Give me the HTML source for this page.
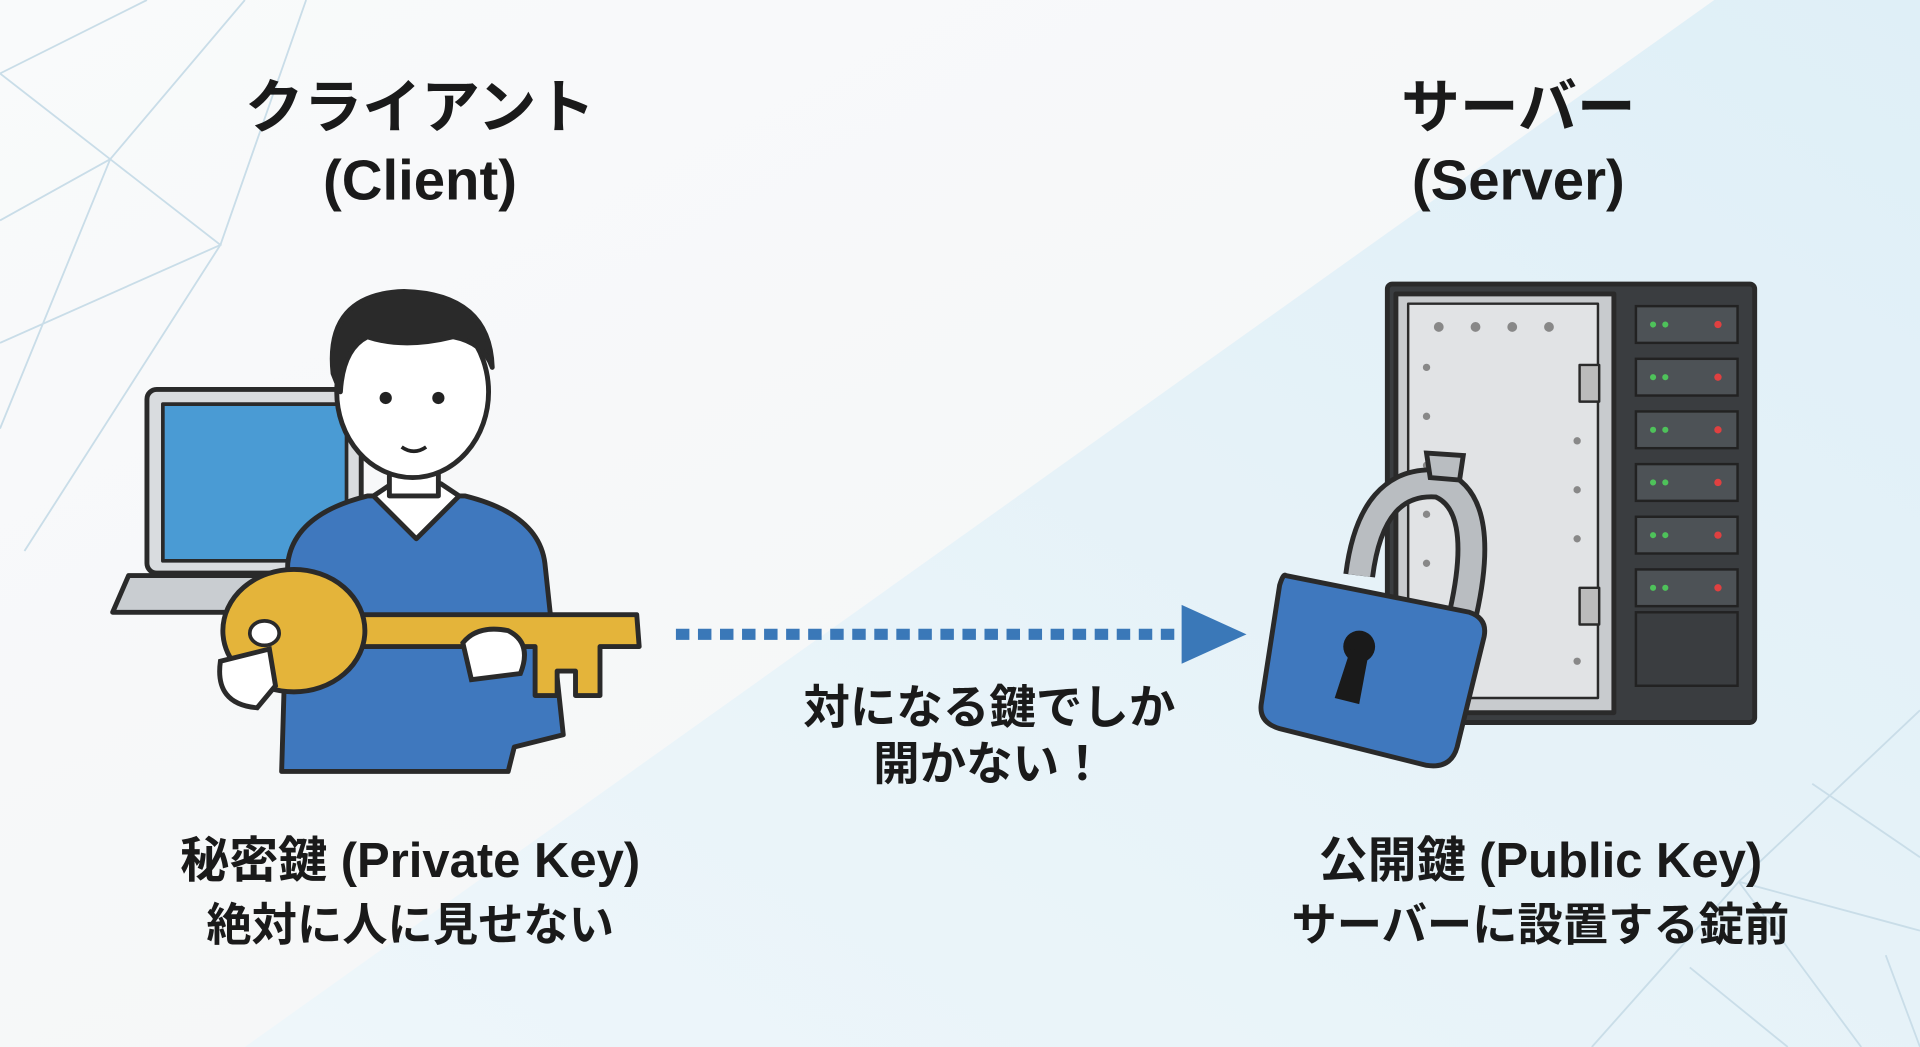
<!DOCTYPE html>
<html><head><meta charset="utf-8">
<style>
html,body{margin:0;padding:0;width:1920px;height:1047px;overflow:hidden;background:#f7f8f9}
svg{display:block}
text{font-family:"Liberation Sans","Noto Sans CJK JP",sans-serif;font-weight:bold;fill:#1a1a1a}
</style></head><body>
<svg width="1920" height="1047" viewBox="0 0 1568 855" preserveAspectRatio="none" xmlns="http://www.w3.org/2000/svg">
<defs>
<linearGradient id="bg" x1="0" y1="0" x2="1" y2="1">
<stop offset="0" stop-color="#f9fafb"/><stop offset="1" stop-color="#f3f5f6"/></linearGradient>
<linearGradient id="bl" x1="0" y1="1" x2="1" y2="0">
<stop offset="0" stop-color="#eef6fa"/><stop offset="1" stop-color="#dfeff7"/></linearGradient>
</defs>
<rect width="1568" height="855" fill="url(#bg)"/>
<polygon points="200,855 1400,0 1568,0 1568,855" fill="url(#bl)"/>
<g stroke="#c9dde8" stroke-width="1.5" fill="none">
<path d="M0,60 L120,0 M0,60 L90,130 L180,200 L0,280 M90,130 L200,0 M90,130 L0,180 M180,200 L20,450 M0,350 L90,130 M180,200 L250,0"/>
<path d="M1568,580 L1420,720 L1300,855 M1420,720 L1568,760 M1420,720 L1520,855 M1480,640 L1568,700 M1380,790 L1460,855 M1540,780 L1568,855"/>
</g>
<text x="343" y="104" font-size="48" text-anchor="middle">クライアント</text>
<text x="343" y="163" font-size="46" text-anchor="middle">(Client)</text>
<text x="1240" y="104" font-size="48" text-anchor="middle">サーバー</text>
<text x="1240" y="163" font-size="46" text-anchor="middle">(Server)</text>
<g stroke="#2a2a2a" stroke-width="4" stroke-linejoin="round">
<rect x="120" y="318" width="175" height="150" rx="8" fill="#d9dcdf"/>
<rect x="133" y="330" width="150" height="128" fill="#4a9bd4" stroke-width="3"/>
<path d="M105,470 L310,470 L320,500 L92,500 Z" fill="#c9cdd1"/>
</g>
<g stroke="#2a2a2a" stroke-width="4" stroke-linejoin="round">
<path d="M230,630 L235,460 Q240,420 300,405 L380,405 Q440,420 445,460 L460,600 L420,610 L415,630 Z" fill="#3f78be"/>
<path d="M305,405 L340,440 L375,405 L360,395 L320,395 Z" fill="#fff"/>
<rect x="318" y="370" width="40" height="35" fill="#fff"/>
<ellipse cx="337" cy="320" rx="62" ry="70" fill="#fff"/>
<path d="M272,305 Q265,240 330,238 Q400,240 402,300 Q395,280 370,275 Q330,285 300,275 Q280,285 278,320 Z" fill="#2a2a2a"/>
</g>
<circle cx="315" cy="325" r="5" fill="#222"/><circle cx="358" cy="325" r="5" fill="#222"/>
<path d="M328,365 Q338,372 348,365" stroke="#222" stroke-width="3" fill="none"/>
<g stroke="#2a2a2a" stroke-width="4" stroke-linejoin="round" fill="#e4b43a">
<path d="M290,502 L520,502 L522,528 L490,528 L490,568 L470,568 L470,548 L455,548 L455,568 L437,568 L437,528 L290,528 Z"/>
<ellipse cx="240" cy="515" rx="58" ry="50"/>
</g>
<ellipse cx="216" cy="517" rx="12" ry="10" fill="#fff" stroke="#2a2a2a" stroke-width="3"/>
<path d="M180,540 Q175,575 210,578 L225,560 L220,530 Z" fill="#fff" stroke="#2a2a2a" stroke-width="4"/>
<path d="M378,525 Q390,510 415,515 Q435,525 425,550 L385,555 Z" fill="#fff" stroke="#2a2a2a" stroke-width="4"/>
<line x1="552" y1="518" x2="965" y2="518" stroke="#3a78b8" stroke-width="9" stroke-dasharray="11,7"/>
<polygon points="965,494 1018,518 965,542" fill="#3a78b8"/>
<text x="808" y="591" font-size="38" text-anchor="middle">対になる鍵でしか</text>
<text x="808" y="637" font-size="38" text-anchor="middle">開かない！</text>
<g stroke="#2a2a2a" stroke-width="4" stroke-linejoin="round">
<rect x="1133" y="232" width="300" height="358" rx="4" fill="#3a3d40"/>
<rect x="1140" y="240" width="178" height="342" fill="#c8cbce"/>
<rect x="1150" y="248" width="155" height="322" fill="#e1e3e5" stroke-width="2"/>
<rect x="1290" y="298" width="16" height="30" fill="#bbb" stroke-width="2"/>
<rect x="1290" y="480" width="16" height="30" fill="#bbb" stroke-width="2"/>
</g>
<g fill="#888">
<circle cx="1175" cy="267" r="4"/><circle cx="1205" cy="267" r="4"/><circle cx="1235" cy="267" r="4"/><circle cx="1265" cy="267" r="4"/>
<circle cx="1165" cy="300" r="3"/><circle cx="1165" cy="340" r="3"/><circle cx="1165" cy="380" r="3"/><circle cx="1165" cy="420" r="3"/><circle cx="1165" cy="460" r="3"/><circle cx="1165" cy="500" r="3"/>
<circle cx="1288" cy="360" r="3"/><circle cx="1288" cy="400" r="3"/><circle cx="1288" cy="440" r="3"/><circle cx="1288" cy="540" r="3"/>
</g>
<g stroke="#222" stroke-width="2" fill="#4d5256">
<rect x="1336" y="250" width="83" height="30"/><rect x="1336" y="293" width="83" height="30"/><rect x="1336" y="336" width="83" height="30"/>
<rect x="1336" y="379" width="83" height="30"/><rect x="1336" y="422" width="83" height="30"/><rect x="1336" y="465" width="83" height="30"/>
<rect x="1336" y="500" width="83" height="60" fill="#3a3d40"/>
</g>
<g fill="#4ec25a">
<circle cx="1350" cy="265" r="2.5"/><circle cx="1360" cy="265" r="2.5"/><circle cx="1350" cy="308" r="2.5"/><circle cx="1360" cy="308" r="2.5"/>
<circle cx="1350" cy="351" r="2.5"/><circle cx="1360" cy="351" r="2.5"/><circle cx="1350" cy="394" r="2.5"/><circle cx="1360" cy="394" r="2.5"/>
<circle cx="1350" cy="437" r="2.5"/><circle cx="1360" cy="437" r="2.5"/><circle cx="1350" cy="480" r="2.5"/><circle cx="1360" cy="480" r="2.5"/>
</g>
<g fill="#e04040">
<circle cx="1403" cy="265" r="3"/><circle cx="1403" cy="308" r="3"/><circle cx="1403" cy="351" r="3"/><circle cx="1403" cy="394" r="3"/><circle cx="1403" cy="437" r="3"/><circle cx="1403" cy="480" r="3"/>
</g>
<path d="M1110,470 Q1120,390 1175,395 Q1215,410 1195,500" stroke="#2a2a2a" stroke-width="26" fill="none"/>
<path d="M1110,470 Q1120,390 1175,395 Q1215,410 1195,500" stroke="#b9bdc1" stroke-width="18" fill="none"/>
<path d="M1165,370 L1195,372 L1192,392 L1168,390 Z" fill="#b9bdc1" stroke="#2a2a2a" stroke-width="4"/>
<path d="M1050,470 L1200,500 Q1215,505 1212,520 L1190,610 Q1185,628 1165,625 L1045,595 Q1028,590 1030,575 L1045,478 Q1048,468 1050,470 Z" fill="#3f78be" stroke="#2a2a2a" stroke-width="4" stroke-linejoin="round"/>
<circle cx="1110" cy="528" r="13" fill="#1a1a1a"/>
<polygon points="1103,530 1118,532 1110,575 1090,570" fill="#1a1a1a"/>
<text x="335" y="716" font-size="40" text-anchor="middle">秘密鍵 (Private Key)</text>
<text x="335" y="768" font-size="37" text-anchor="middle">絶対に人に見せない</text>
<text x="1258" y="716" font-size="40" text-anchor="middle">公開鍵 (Public Key)</text>
<text x="1258" y="768" font-size="37" text-anchor="middle">サーバーに設置する錠前</text>
</svg>
</body></html>
